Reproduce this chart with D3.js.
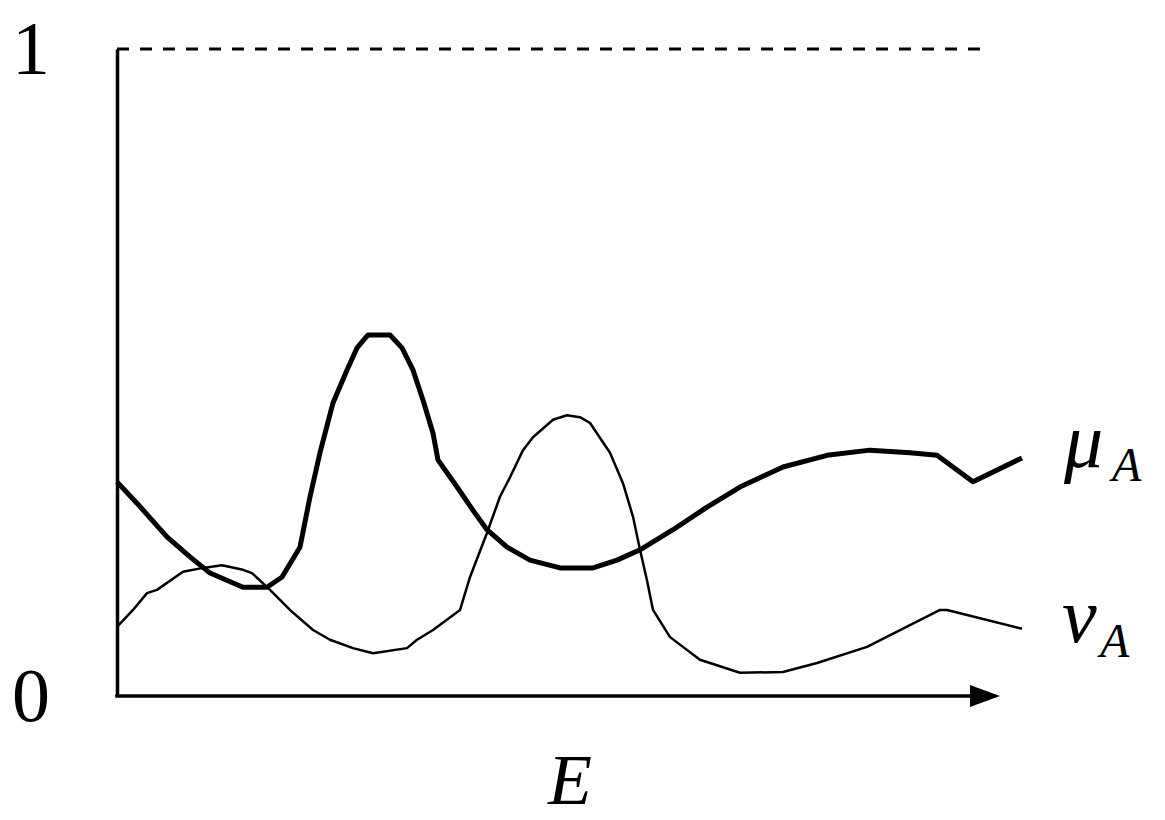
<!DOCTYPE html>
<html>
<head>
<meta charset="utf-8">
<script src="https://cdn.jsdelivr.net/npm/d3@7/dist/d3.min.js"></script>
<style>
  html, body { margin: 0; padding: 0; background: #fff; }
  svg { display: block; }
  text { font-family: "Liberation Serif", "DejaVu Serif", serif; fill: #000; }
</style>
</head>
<body>
<svg id="chart" width="1165" height="820"></svg>
<script>
// ---- data ----
const muE = [0, 0.226, 0.566, 0.827, 1.053, 1.427, 1.699, 1.869, 2.072, 2.186, 2.299, 2.446, 2.605, 2.718, 2.843, 3.092, 3.228, 3.352, 3.466, 3.579, 3.635, 3.851, 4.032, 4.190, 4.417, 4.677, 5.017, 5.391, 5.663, 5.923, 6.297, 6.682, 7.055, 7.542, 8.041, 8.528, 8.981, 9.287, 9.694, 10.249];
const muVal = [0.331, 0.298, 0.246, 0.215, 0.190, 0.168, 0.168, 0.184, 0.230, 0.308, 0.376, 0.453, 0.504, 0.538, 0.558, 0.558, 0.538, 0.504, 0.457, 0.406, 0.365, 0.323, 0.287, 0.257, 0.230, 0.210, 0.198, 0.198, 0.210, 0.226, 0.257, 0.292, 0.323, 0.354, 0.372, 0.380, 0.376, 0.372, 0.331, 0.368];

const nuE = [0, 0.181, 0.340, 0.453, 0.747, 0.974, 1.189, 1.427, 1.529, 1.733, 1.959, 2.220, 2.412, 2.673, 2.899, 3.284, 3.398, 3.579, 3.885, 3.998, 4.190, 4.337, 4.451, 4.598, 4.711, 4.938, 5.096, 5.243, 5.357, 5.583, 5.730, 5.844, 5.923, 6.002, 6.070, 6.263, 6.602, 7.055, 7.542, 7.928, 8.494, 9.321, 9.400, 10.249];
const nuVal = [0.107, 0.133, 0.159, 0.164, 0.192, 0.198, 0.202, 0.195, 0.190, 0.164, 0.133, 0.102, 0.087, 0.074, 0.066, 0.074, 0.087, 0.102, 0.133, 0.184, 0.252, 0.308, 0.338, 0.380, 0.400, 0.427, 0.434, 0.431, 0.422, 0.376, 0.329, 0.277, 0.226, 0.179, 0.133, 0.091, 0.056, 0.036, 0.037, 0.051, 0.076, 0.133, 0.133, 0.104];

const yTickValues = [0, 1];
const yTickLabels = ["0", "1"];
const xLabel = "E";
const muLabel = ["μ", "A"];
const nuLabel = ["ν", "A"];

// ---- drawing ----
const svg = d3.select("#chart");
const x = d3.scaleLinear().domain([0, 10]).range([117, 1000]);
const y = d3.scaleLinear().domain([0, 1]).range([696, 49]);

// dashed line at 1
svg.append("line")
  .attr("x1", x(0)).attr("x2", x(10) - 10)
  .attr("y1", y(1)).attr("y2", y(1))
  .attr("stroke", "#000").attr("stroke-width", 3)
  .attr("stroke-dasharray", "12,11");

// y axis
const yAxis = svg.append("g")
  .attr("transform", `translate(${x(0)},0)`)
  .call(d3.axisLeft(y).tickValues(yTickValues).tickFormat((d, i) => yTickLabels[i])
        .tickSize(0).tickSizeOuter(0).tickPadding(67));
yAxis.select(".domain").attr("stroke", "#000").attr("stroke-width", 3.5);
yAxis.selectAll("text").attr("font-size", 76).attr("font-family", "Liberation Serif, DejaVu Serif, serif").attr("fill", "#000");

// x axis
const xAxis = svg.append("g")
  .attr("transform", `translate(0,${y(0)})`)
  .call(d3.axisBottom(x).tickValues([]).tickSize(0).tickSizeOuter(0));
xAxis.select(".domain").attr("stroke", "#000").attr("stroke-width", 3.5)
  .attr("d", `M${x(0) - 1.75},0H${x(10) - 20}`);

// arrow head
const tipX = x(10), ay = y(0);
svg.append("path")
  .attr("d", `M${tipX},${ay} L${tipX - 30},${ay - 11} L${tipX - 30},${ay + 11} Z`)
  .attr("fill", "#000");

// lines
const line = d3.line().x(d => x(d[0])).y(d => y(d[1])).curve(d3.curveLinear);
svg.append("path")
  .datum(muE.map((e, i) => [e, muVal[i]]))
  .attr("d", line)
  .attr("fill", "none").attr("stroke", "#000").attr("stroke-width", 5)
  .attr("stroke-linejoin", "round");
svg.append("path")
  .datum(nuE.map((e, i) => [e, nuVal[i]]))
  .attr("d", line)
  .attr("fill", "none").attr("stroke", "#000").attr("stroke-width", 2.5)
  .attr("stroke-linejoin", "round");

// labels
svg.append("text").attr("x", 570).attr("y", 804)
  .attr("text-anchor", "middle").attr("font-style", "italic").attr("font-size", 72)
  .text(xLabel);

svg.append("text").attr("x", 1064).attr("y", 467)
  .attr("font-style", "italic").attr("font-size", 78).text(muLabel[0]);
svg.append("text").attr("x", 1112).attr("y", 481)
  .attr("font-style", "italic").attr("font-size", 48).text(muLabel[1]);

svg.append("text").attr("x", 1062).attr("y", 642)
  .attr("font-style", "italic").attr("font-size", 78).text(nuLabel[0]);
svg.append("text").attr("x", 1100).attr("y", 657)
  .attr("font-style", "italic").attr("font-size", 48).text(nuLabel[1]);
</script>
</body>
</html>
